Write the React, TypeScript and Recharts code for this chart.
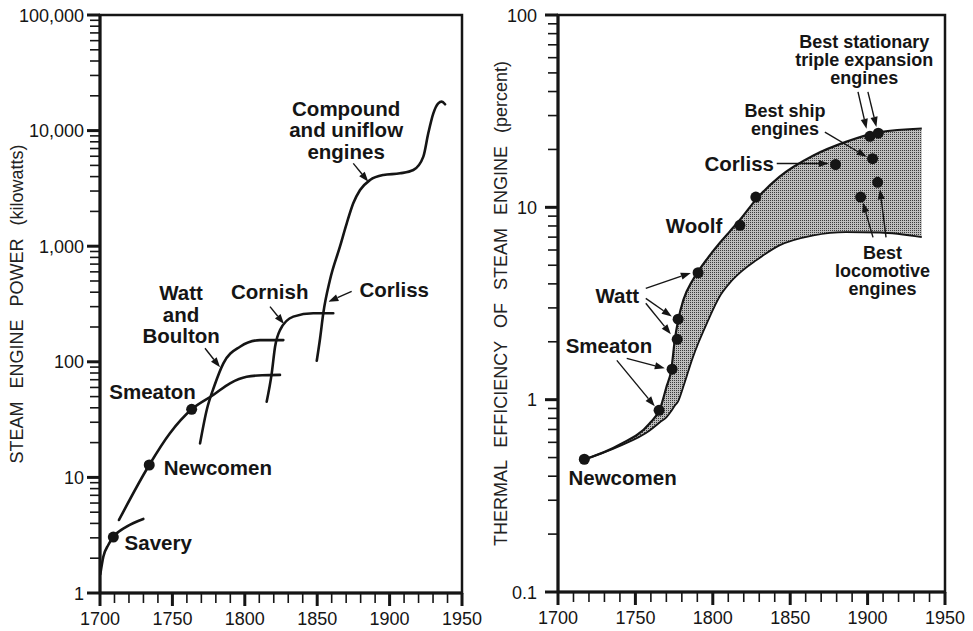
import React from 'react';
import {
  ComposedChart,
  Line,
  Area,
  Scatter,
  XAxis,
  YAxis,
  ReferenceArea,
  ReferenceLine,
} from 'recharts';

// ---------- shared axis values ----------
const yearTicks = [
  1700, 1710, 1720, 1730, 1740, 1750, 1760, 1770, 1780, 1790, 1800, 1810, 1820,
  1830, 1840, 1850, 1860, 1870, 1880, 1890, 1900, 1910, 1920, 1930, 1940, 1950,
];
const yearLabels = ['1700', '1750', '1800', '1850', '1900', '1950'];
const majorYears = [1700, 1750, 1800, 1850, 1900, 1950];
const minorSteps = [2, 3, 4, 5, 6, 7, 8, 9];

// ---------- left panel: steam engine power (kW) ----------
const powerMajors = [1, 10, 100, 1000, 10000, 100000];
const powerLabels = ['1', '10', '100', '1,000', '10,000', '100,000'];

const saveryYears = [1700.2, 1702.3, 1705.7, 1709.2, 1718.4, 1729.9];
const saveryPower = [1.45, 2.06, 2.6, 3.05, 3.75, 4.37];

const newcomenYears = [1713.1, 1734, 1748.3, 1763.3, 1778.2, 1789.8, 1801.3, 1812, 1824.3];
const newcomenPower = [4.28, 12.8, 24.1, 38.8, 51.6, 65.2, 74.3, 76.5, 77];

const wattYears = [1769.1, 1773.7, 1779, 1785.2, 1796.7, 1810.5, 1826.6];
const wattPower = [19.7, 38.3, 62, 97, 135, 154, 154];

const cornishYears = [1815.1, 1818.6, 1820.9, 1824.3, 1833.5, 1847.3, 1861.1];
const cornishPower = [45.2, 79.5, 135, 188, 246, 263, 263];

const compoundYears = [
  1849.7, 1852, 1854.2, 1858.8, 1865.7, 1870.4, 1874.9, 1879.6, 1886.5, 1895.7,
  1907.2, 1916.4, 1923.3, 1926.7, 1930.2, 1933.6, 1936, 1938.3,
];
const compoundPower = [
  102, 160, 263, 510, 991, 1577, 2350, 3060, 3740, 4130, 4270, 4560, 5950, 9480,
  14100, 17200, 17800, 16900,
];

const powerDotYears = [1709.2, 1734, 1763.3];
const powerDotValues = [3.05, 12.8, 38.8];

const powerNotes = [
  { text: ['Savery'], x: 1740.2, y: 2.71 },
  { text: ['Newcomen'], x: 1781.4, y: 12.06 },
  { text: ['Smeaton'], x: 1736.3, y: 54.8 },
  { text: ['Watt', 'and', 'Boulton'], x: 1756, y: 258 },
  { text: ['Cornish'], x: 1817.2, y: 404 },
  { text: ['Corliss'], x: 1903.2, y: 418 },
  { text: ['Compound', 'and uniflow', 'engines'], x: 1870, y: 10120 },
];

const powerArrows = [
  [1772.5, 131, 1782.9, 89.6],
  [1817.4, 300, 1827.1, 212],
  [1873.8, 406, 1857.7, 331],
  [1874.9, 5210, 1885.3, 3614],
];

// ---------- right panel: thermal efficiency (%) ----------
const effMajors = [0.1, 1, 10, 100];
const effLabels = ['0.1', '1', '10', '100'];

const bandYears = [
  1714, 1740, 1759, 1766, 1770, 1773.3, 1775.4, 1777.6, 1781, 1787, 1791, 1796,
  1805, 1811, 1818, 1828, 1843, 1865, 1886, 1908, 1935,
];
const bandUpper = [
  0.48, 0.585, 0.75, 0.9, 1.16, 1.45, 2.03, 2.58, 3.3, 4.18, 4.7, 5.35, 6.6, 7.5,
  8.7, 11.0, 14.4, 18.6, 21.9, 24.6, 25.7,
];
const bandLower = [
  0.48, 0.575, 0.69, 0.765, 0.81, 0.875, 0.93, 0.98, 1.17, 1.65, 2.0, 2.48, 3.5,
  4.05, 4.6, 5.3, 6.34, 7.15, 7.44, 7.4, 7.0,
];

const effDotYears = [
  1717, 1765.3, 1773.7, 1777, 1777.6, 1790.5, 1817.5, 1827.8, 1879.3, 1901.5,
  1906.9, 1903.2, 1906.5, 1895.5,
];
const effDotValues = [
  0.49, 0.88, 1.44, 2.06, 2.62, 4.57, 8.06, 11.3, 16.7, 23.4, 24.3, 17.9, 13.5, 11.3,
];

const effNotes = [
  { text: ['Newcomen'], x: 1741.7, y: 0.392 },
  { text: ['Smeaton'], x: 1732.9, y: 1.905 },
  { text: ['Watt'], x: 1738.3, y: 3.487 },
  { text: ['Woolf'], x: 1787.9, y: 8.06 },
  { text: ['Corliss'], x: 1817.1, y: 16.9 },
];
const effSmallNotes = [
  { text: ['Best ship', 'engines'], x: 1846.6, y: 28.6 },
  { text: ['Best stationary', 'triple expansion', 'engines'], x: 1897.8, y: 58.6 },
  { text: ['Best', 'locomotive', 'engines'], x: 1909.6, y: 4.7 },
];

const effArrows = [
  [1756.7, 3.79, 1785.8, 4.56],
  [1756.7, 3.36, 1773.5, 2.71],
  [1756.7, 3.17, 1772.9, 2.19],
  [1744.4, 1.64, 1769, 1.455],
  [1738, 1.6, 1762.5, 0.923],
  [1841.3, 16.9, 1875, 16.9],
  [1872.4, 24.6, 1899.4, 18.3],
  [1893.8, 39.8, 1899.3, 25.6],
  [1900.2, 39.8, 1905.7, 26.2],
  [1903.5, 6.98, 1897, 10.6],
  [1911.9, 6.98, 1908, 12.4],
];

// ---------- helpers ----------
const FONT = '"Liberation Sans", Arial, Helvetica, sans-serif';
const INK = '#151515';

const pairs = (xs: number[], ys: number[]) => xs.map((x, i) => ({ x, y: ys[i] }));
const logTicks = (majors: number[]) =>
  majors.flatMap((m, i) =>
    i < majors.length - 1 ? [m, ...minorSteps.map((s) => +(m * s).toPrecision(6))] : [m]
  );

const makeYTick = (majors: number[], labels: string[], gap: number) => (props: any) => {
  const { x, y, payload } = props;
  const v = payload.value;
  const idx = majors.findIndex((m) => Math.abs(m - v) / m < 1e-6);
  const major = idx >= 0;
  return (
    <g>
      <line
        x1={x - (major ? 13 : 10)}
        x2={x}
        y1={y}
        y2={y}
        stroke={INK}
        strokeWidth={major ? 3 : 1.6}
      />
      {major && (
        <text x={x - gap} y={y + 6.5} textAnchor="end" fontSize={18} fontFamily={FONT} fill={INK}>
          {labels[idx]}
        </text>
      )}
    </g>
  );
};

const XTick = (props: any) => {
  const { x, y, payload } = props;
  const v = payload.value;
  const idx = majorYears.indexOf(v);
  const major = idx >= 0;
  return (
    <g>
      <line x1={x} x2={x} y1={y} y2={y + (major ? 13 : 10)} stroke={INK} strokeWidth={major ? 3 : 1.6} />
      {major && (
        <text x={x} y={y + 25.5 + 6.5} textAnchor="middle" fontSize={18} fontFamily={FONT} fill={INK}>
          {yearLabels[idx]}
        </text>
      )}
    </g>
  );
};

const makeTitle = (title: string, dx: number) => (props: any) => {
  const vb = props && props.viewBox ? props.viewBox : { x: 0, y: 15, width: 100, height: 578 };
  const cx = vb.x + dx;
  const cy = vb.y + vb.height / 2;
  return (
    <text
      x={cx}
      y={cy + 6.5}
      transform={`rotate(-90, ${cx}, ${cy})`}
      textAnchor="middle"
      fontSize={18}
      fontFamily={FONT}
      fill="#222"
      style={{ wordSpacing: '8px' }}
    >
      {title}
    </text>
  );
};

const makeNote = (size: number, lh: number) => (p: any) => {
  const lines: string[] = p.payload.text;
  const n = lines.length;
  return (
    <text
      textAnchor="middle"
      fontSize={size}
      fontWeight="bold"
      fontFamily={FONT}
      fill={INK}
    >
      {lines.map((t, i) => (
        <tspan key={i} x={p.cx} y={p.cy + (i - (n - 1) / 2) * lh + 0.36 * size}>
          {t}
        </tspan>
      ))}
    </text>
  );
};

const dotShape = (p: any) => <circle cx={p.cx} cy={p.cy} r={5.5} fill={INK} />;

const arrowShape = (p: any) => {
  const { x1, y1, x2, y2 } = p;
  const ang = Math.atan2(y2 - y1, x2 - x1);
  const L = 10;
  const W = 3.6;
  const bx = x2 - L * Math.cos(ang);
  const by = y2 - L * Math.sin(ang);
  const nx = -Math.sin(ang) * W;
  const ny = Math.cos(ang) * W;
  return (
    <g>
      <line x1={x1} y1={y1} x2={bx} y2={by} stroke={INK} strokeWidth={1.4} />
      <polygon points={`${x2},${y2} ${bx + nx},${by + ny} ${bx - nx},${by - ny}`} fill={INK} />
    </g>
  );
};

const renderArrows = (list: number[][], prefix: string) =>
  list.map((a, i) => (
    <ReferenceLine
      key={`${prefix}${i}`}
      segment={[
        { x: a[0], y: a[1] },
        { x: a[2], y: a[3] },
      ]}
      ifOverflow="visible"
      shape={arrowShape}
    />
  ));

const curve = (xs: number[], ys: number[], key: string) => (
  <Line
    key={key}
    data={pairs(xs, ys)}
    dataKey="y"
    type="monotone"
    stroke={INK}
    strokeWidth={2.6}
    dot={false}
    activeDot={false}
    isAnimationActive={false}
    strokeLinecap="round"
  />
);

const bandData = bandYears.map((x, i) => ({ x, lo: bandLower[i], hi: bandUpper[i] }));

export default function App() {
  const powerTicks = logTicks(powerMajors);
  const effTicks = logTicks(effMajors);

  return (
    <div style={{ position: 'absolute', left: 0, top: 0, width: 973, height: 631, background: '#fff' }}>
      <svg width={0} height={0} style={{ position: 'absolute' }}>
        <defs>
          <pattern id="stipple" width={2} height={2} patternUnits="userSpaceOnUse">
            <rect width={2} height={2} fill="#bdbdbd" />
            <rect width={1} height={1} fill="#3a3a3a" />
          </pattern>
        </defs>
      </svg>

      {/* Left panel */}
      <div style={{ position: 'absolute', left: 0, top: 0 }}>
        <ComposedChart width={492} height={631} margin={{ top: 15, right: 30, bottom: 0, left: 0 }}>
          <XAxis
            dataKey="x"
            type="number"
            domain={[1700, 1950]}
            ticks={yearTicks}
            interval={0}
            allowDataOverflow
            height={38}
            tickSize={0}
            tickMargin={0}
            tickLine={false}
            axisLine={{ stroke: INK, strokeWidth: 3 }}
            tick={XTick}
          />
          <YAxis
            dataKey="y"
            type="number"
            scale="log"
            domain={[1, 100000]}
            ticks={powerTicks}
            interval={0}
            allowDataOverflow
            width={100}
            tickSize={0}
            tickMargin={0}
            tickLine={false}
            axisLine={{ stroke: INK, strokeWidth: 3 }}
            tick={makeYTick(powerMajors, powerLabels, 16)}
            label={makeTitle('STEAM ENGINE POWER (kilowatts)', 16)}
          />
          <ReferenceArea
            x1={1700}
            x2={1950}
            y1={1}
            y2={100000}
            fill="none"
            stroke={INK}
            strokeWidth={2.5}
            ifOverflow="visible"
          />
          {curve(saveryYears, saveryPower, 'savery')}
          {curve(newcomenYears, newcomenPower, 'newcomen')}
          {curve(wattYears, wattPower, 'watt')}
          {curve(cornishYears, cornishPower, 'cornish')}
          {curve(compoundYears, compoundPower, 'compound')}
          <Scatter data={pairs(powerDotYears, powerDotValues)} shape={dotShape} isAnimationActive={false} />
          {renderArrows(powerArrows, 'pa')}
          <Scatter data={powerNotes} shape={makeNote(20.5, 21.7)} isAnimationActive={false} />
        </ComposedChart>
      </div>

      {/* Right panel */}
      <div style={{ position: 'absolute', left: 480, top: 0 }}>
        <ComposedChart width={493} height={631} margin={{ top: 15, right: 28, bottom: 0, left: 0 }}>
          <XAxis
            dataKey="x"
            type="number"
            domain={[1700, 1950]}
            ticks={yearTicks}
            interval={0}
            allowDataOverflow
            height={39}
            tickSize={0}
            tickMargin={0}
            tickLine={false}
            axisLine={{ stroke: INK, strokeWidth: 3 }}
            tick={XTick}
          />
          <YAxis
            dataKey="y"
            type="number"
            scale="log"
            domain={[0.1, 100]}
            ticks={effTicks}
            interval={0}
            allowDataOverflow
            width={78}
            tickSize={0}
            tickMargin={0}
            tickLine={false}
            axisLine={{ stroke: INK, strokeWidth: 3 }}
            tick={makeYTick(effMajors, effLabels, 21)}
            label={makeTitle('THERMAL EFFICIENCY OF STEAM ENGINE (percent)', 20)}
          />
          <ReferenceArea
            x1={1700}
            x2={1950}
            y1={0.1}
            y2={100}
            fill="none"
            stroke={INK}
            strokeWidth={2.5}
            ifOverflow="visible"
          />
          <Area
            data={bandData}
            dataKey={(d: any) => [d.lo, d.hi]}
            type="monotone"
            fill="url(#stipple)"
            fillOpacity={1}
            stroke="none"
            isAnimationActive={false}
            activeDot={false}
            dot={false}
          />
          <Line
            data={pairs(bandYears, bandUpper)}
            dataKey="y"
            type="monotone"
            stroke={INK}
            strokeWidth={2.2}
            dot={false}
            activeDot={false}
            isAnimationActive={false}
          />
          <Line
            data={pairs(bandYears, bandLower)}
            dataKey="y"
            type="monotone"
            stroke={INK}
            strokeWidth={1.8}
            dot={false}
            activeDot={false}
            isAnimationActive={false}
          />
          <Scatter data={pairs(effDotYears, effDotValues)} shape={dotShape} isAnimationActive={false} />
          {renderArrows(effArrows, 'ea')}
          <Scatter data={effNotes} shape={makeNote(20.5, 21.7)} isAnimationActive={false} />
          <Scatter data={effSmallNotes} shape={makeNote(18, 18.3)} isAnimationActive={false} />
        </ComposedChart>
      </div>
    </div>
  );
}
